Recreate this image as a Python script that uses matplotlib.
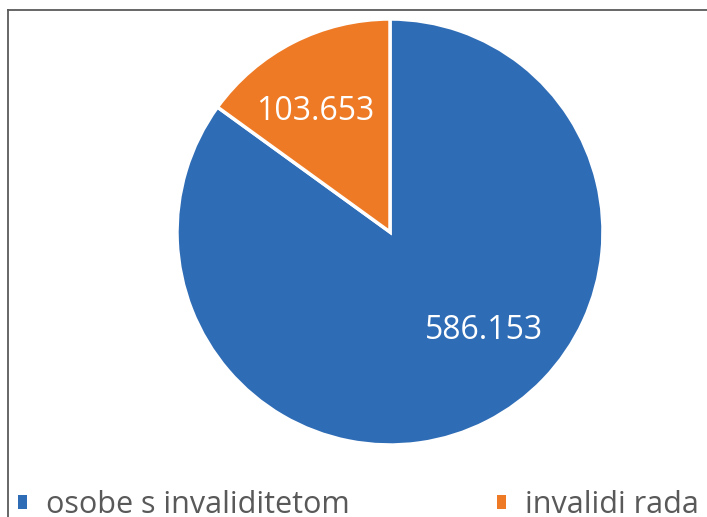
import matplotlib.pyplot as plt
from matplotlib.lines import Line2D
from matplotlib.patches import Patch

categories = ['osobe s invaliditetom', 'invalidi rada']
values = [586153, 103653]
value_labels = ['586.153', '103.653']
colors = ['#2E6CB6', '#EE7A26']

plt.rcParams['font.family'] = ['Open Sans', 'DejaVu Sans']

W, H = 707, 517
fig = plt.figure(figsize=(W / 100, H / 100), dpi=100)
fig.patch.set_facecolor('white')

# pie box in pixels: center (390, 232), radius 213
cx, cy, r = 390, 232, 213
ax = fig.add_axes([(cx - r) / W, (H - cy - r) / H, 2 * r / W, 2 * r / H])
wedges, _ = ax.pie(values, colors=colors, startangle=90, counterclock=False,
                   wedgeprops=dict(edgecolor='white', linewidth=2.5))
ax.set_xlim(-1, 1)
ax.set_ylim(-1, 1)
ax.set_aspect('equal')
ax.axis('off')

# value labels inside the slices
label_pos = [(0.443, -0.463), (-0.35, 0.565)]
for (x, y), txt in zip(label_pos, value_labels):
    ax.text(x, y, txt, ha='center', va='center', color='white', fontsize=23)

# legend along the bottom
handles = [Patch(facecolor=c, edgecolor='none') for c in colors]
leg = fig.legend(handles, categories, loc='lower left', ncol=2,
                 bbox_to_anchor=(18 / W, -3 / H), frameon=False,
                 fontsize=22, handlelength=0.31, handleheight=0.31,
                 handletextpad=0.62, columnspacing=4.8, borderpad=0,
                 borderaxespad=0)
for t in leg.get_texts():
    t.set_color('#595959')

# frame lines of the original chart box (top and left visible)
fig.add_artist(Line2D([8 / W, 8 / W], [0, 1 - 9.5 / H], transform=fig.transFigure,
                      color='#5a5a5a', lw=1.3))
fig.add_artist(Line2D([8 / W, 1], [1 - 9.5 / H, 1 - 9.5 / H], transform=fig.transFigure,
                      color='#5a5a5a', lw=1.3))

fig.savefig('out.png', dpi=100, facecolor='white')
